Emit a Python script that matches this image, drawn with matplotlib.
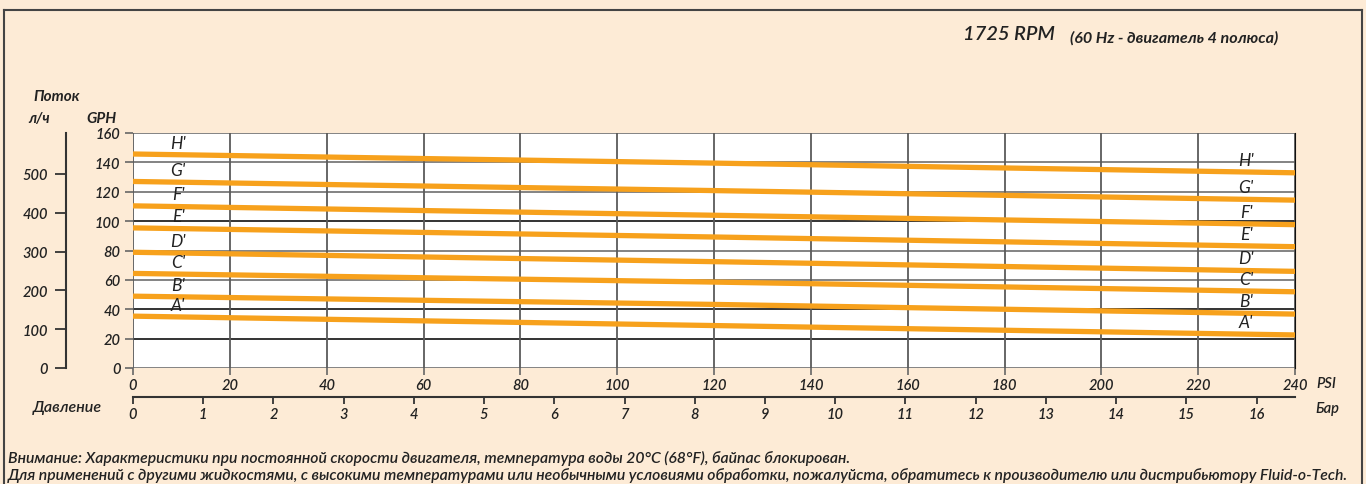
import numpy as np
import matplotlib.pyplot as plt
from matplotlib.lines import Line2D

# данные кривых: расход (GPH) при давлении 0, 120, 240 PSI
psi = [0, 120, 240]
curve_names = ["A'", "B'", "C'", "D'", "E'", "F'", "G'", "H'"]
gph_A = [35.3, 28.9, 22.5]
gph_B = [48.9, 43.3, 36.7]
gph_C = [64.4, 58.5, 51.9]
gph_D = [78.8, 72.4, 65.8]
gph_E = [95.4, 89.2, 82.6]
gph_F = [110.4, 104.0, 97.6]
gph_G = [127.0, 120.8, 114.3]
gph_H = [145.7, 139.5, 132.9]
curves = [gph_A, gph_B, gph_C, gph_D, gph_E, gph_F, gph_G, gph_H]

psi_ticks = list(range(0, 241, 20))
gph_ticks = list(range(0, 161, 20))
lph_ticks = [0, 100, 200, 300, 400, 500]
bar_ticks = list(range(0, 17))

PSI_PER_BAR = 14.5038
LPH_PER_GPH = 3.78541

bg = '#fdebd6'
orange = '#f7a11c'
FONT = ['Lato', 'DejaVu Sans']
txt = dict(family=FONT, style='italic', color='#222222')
tk = dict(txt, weight='semibold', fontsize=10.5)

W, H = 1366, 485
fig = plt.figure(figsize=(W / 100, H / 100), dpi=100, facecolor=bg)


def fx(px):
    return px / W


def fy(py):
    return 1 - py / H


# основная область графика
ax = fig.add_axes([fx(133), fy(369), fx(1295) - fx(133), fy(134) - fy(369)])
ax.set_facecolor('white')
ax.set_xlim(0, 240)
ax.set_ylim(0, 160)
ax.set_xticks(psi_ticks)
ax.set_yticks(gph_ticks)
ax.set_xticklabels([str(t) for t in psi_ticks], **tk)
ax.set_yticklabels([str(t) for t in gph_ticks], **tk)
ax.tick_params(axis='x', length=5, width=1.2, color='#666666', pad=2)
ax.tick_params(axis='y', length=6, width=1.2, color='#666666', pad=3)

# сетка
dark_rows = [20, 40, 100]
for g in gph_ticks:
    ax.axhline(g, color='#111111' if g in dark_rows else '#6e6e6e', lw=1.2, zorder=1)
for p in psi_ticks:
    ax.axvline(p, color='#5a5a5a', lw=1.3, zorder=1)
for s in ax.spines.values():
    s.set_visible(False)
ax.spines['right'].set_visible(True)
ax.spines['right'].set_color('#111111')

# кривые
for name, vals in zip(curve_names, curves):
    ax.plot(psi, vals, color=orange, lw=3.8, solid_capstyle='butt', zorder=3)
    for xl in (9.3, 229.9):
        yl = np.interp(xl, psi, vals)
        ax.annotate(name, (xl, yl), xytext=(0, 3), textcoords='offset points',
                    ha='center', va='bottom', fontsize=12.5, **txt, zorder=4)

# ось л/ч
ax_l = fig.add_axes([fx(66), fy(369), 0.001, fy(134) - fy(369)])
ax_l.set_ylim(0, 160 * LPH_PER_GPH)
ax_l.set_xticks([])
ax_l.set_yticks(lph_ticks)
ax_l.set_yticklabels([str(t) for t in lph_ticks], **tk)
ax_l.tick_params(axis='y', length=8, width=1.3, color='#333333', pad=5)
ax_l.patch.set_visible(False)
for k, s in ax_l.spines.items():
    s.set_visible(k == 'left')
ax_l.spines['left'].set_linewidth(1.5)
ax_l.spines['left'].set_color('#333333')

# ось бар
ax_b = fig.add_axes([fx(133), fy(398), fx(1295) - fx(133), 0.001])
ax_b.set_xlim(0, 240 / PSI_PER_BAR)
ax_b.set_yticks([])
ax_b.set_xticks(bar_ticks)
ax_b.set_xticklabels([str(t) for t in bar_ticks], **tk)
ax_b.tick_params(axis='x', length=5, width=1.3, color='#333333', pad=2)
ax_b.patch.set_visible(False)
for k, s in ax_b.spines.items():
    s.set_visible(k == 'bottom')
ax_b.spines['bottom'].set_linewidth(1.5)
ax_b.spines['bottom'].set_color('#333333')

# подписи
fig.text(fx(963), fy(35), '1725 RPM', fontsize=14.5, va='center', weight='semibold', **txt)
fig.text(fx(1070), fy(38), '(60 Hz - двигатель 4 полюса)', fontsize=11.6,
         va='center', weight='bold', **txt)
fig.text(fx(33), fy(97), 'Поток', fontsize=11, va='center', weight='bold', **txt)
fig.text(fx(28), fy(119), 'л/ч', fontsize=10.5, va='center', weight='bold', **txt)
fig.text(fx(86), fy(119), 'GPH', fontsize=11, va='center', weight='bold', **txt)
fig.text(fx(33), fy(408), 'Давление', fontsize=11.5, va='center', weight='semibold', **txt)
fig.text(fx(1316), fy(384), 'PSI', fontsize=10.5, va='center', weight='semibold', **txt)
fig.text(fx(1315), fy(409), 'Бар', fontsize=10.5, va='center', weight='semibold', **txt)
fig.text(fx(8), fy(458),
         'Внимание: Характеристики при постоянной скорости двигателя, температура воды 20°C (68°F), байпас блокирован.',
         fontsize=11.35, va='center', weight='semibold', **txt)
fig.text(fx(8), fy(476),
         'Для применений с другими жидкостями, с высокими температурами или необычными условиями обработки, '
         'пожалуйста, обратитесь к производителю или дистрибьютору Fluid-o-Tech.',
         fontsize=11.35, va='center', weight='semibold', **txt)

# рамка
frame = dict(color='#444444', lw=1.5, transform=fig.transFigure)
fig.add_artist(Line2D([fx(4), fx(1362)], [fy(11), fy(11)], **frame))
fig.add_artist(Line2D([fx(4), fx(4)], [fy(11), 0], **frame))
fig.add_artist(Line2D([fx(1362), fx(1362)], [fy(11), 0], **frame))

fig.savefig('out.png', dpi=100, facecolor=bg)
